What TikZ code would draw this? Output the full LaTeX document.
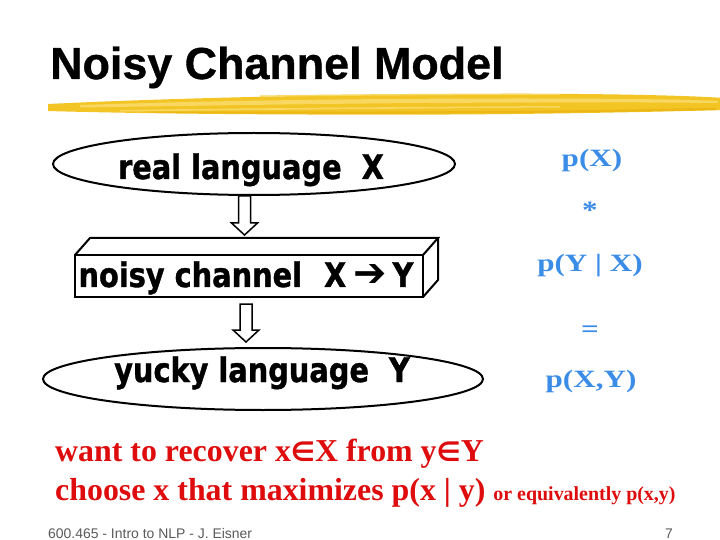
\documentclass[tikz,border=0pt]{standalone}
\usepackage{fontspec}
\setmainfont{Liberation Serif}
\newfontfamily\titlefont{Liberation Sans}[BoldFeatures={FakeBold=0.8}]
\newfontfamily\boxfont{DejaVu Sans}[FakeStretch=0.85, BoldFeatures={FakeBold=1.1}]
\newfontfamily\bluefont{Liberation Serif}[FakeStretch=1.25]
\newfontfamily\footfont{Liberation Sans}
\newfontfamily\symfont{DejaVu Sans}
\usetikzlibrary{shapes.geometric,calc}
\definecolor{slideblue}{RGB}{58,140,230}
\definecolor{slidered}{RGB}{222,12,12}
\definecolor{brushyellow}{RGB}{242,196,36}
\definecolor{brushlight}{RGB}{248,216,96}
\definecolor{brushdark}{RGB}{236,184,22}
\definecolor{footgrey}{RGB}{90,90,90}
\tikzset{
  outline/.style={draw=black,line width=2bp,outer sep=0pt,inner sep=0pt},
  boxtext/.style={font=\boxfont\bfseries\fontsize{34}{40}\selectfont,anchor=base,inner sep=0pt},
  bluetext/.style={font=\bluefont\bfseries\fontsize{25}{30}\selectfont,text=slideblue,anchor=base,inner sep=0pt},
  redtext/.style={font=\bfseries\fontsize{32}{38}\selectfont,text=slidered,anchor=base west,inner sep=0pt},
  pics/downarrow/.style n args={2}{code={
    \draw[line width=1.5bp,fill=white,line join=miter]
      (-6,0) -- (-6,#1) -- (-13,#1) -- (0,#2) -- (13,#1) -- (6,#1) -- (6,0) -- cycle;}}
}
\newcommand{\elt}{{\symfont\bfseries\fontsize{27}{30}\selectfont ∈}}
\newcommand{\harrow}{{\symfont\fontsize{40}{44}\selectfont ➔}}
\begin{document}
\begin{tikzpicture}[x=1bp,y=-1bp]
\path[use as bounding box,fill=white] (0,0) rectangle (720,540);

% title
\node[font=\titlefont\bfseries\fontsize{45}{54}\selectfont,anchor=base west,inner sep=0pt] (title) at (50,79) {Noisy Channel Model};

% brush stroke
\fill[brushyellow] (48,104) .. controls (150,99) and (300,95) .. (450,94)
   .. controls (580,93) and (680,95) .. (724,98) -- (724,110)
   .. controls (650,112) and (550,114) .. (450,114.5)
   .. controls (300,115) and (150,114) .. (48,111) -- cycle;
\fill[brushlight] (80,105) .. controls (200,101) and (350,98.5) .. (520,98.5)
   .. controls (620,98.5) and (690,99.5) .. (718,101) -- (718,103)
   .. controls (620,102) and (520,102.5) .. (420,103)
   .. controls (300,104) and (180,106) .. (80,107.5) -- cycle;
\fill[brushlight] (120,110) .. controls (260,108) and (400,107) .. (560,106) -- (560,107.5)
   .. controls (400,108.5) and (260,110) .. (120,111.5) -- cycle;
\fill[brushdark] (150,111.5) .. controls (300,112) and (450,111.5) .. (600,110)
   .. controls (650,109) and (690,108) .. (716,108) -- (716,110)
   .. controls (650,111.5) and (550,113) .. (420,113.5)
   .. controls (300,114) and (200,113.5) .. (150,112.5) -- cycle;
\fill[brushlight] (260,95.5) .. controls (360,94) and (460,93.5) .. (560,94) -- (560,95.2)
   .. controls (460,95) and (360,95.5) .. (260,96.8) -- cycle;

% real language ellipse
\node[ellipse,outline,minimum width=402bp,minimum height=62bp] (real) at (254,164) {};
\node[boxtext] (realtext) at (251,179) {real language\hspace{20bp}X};

% noisy channel box
\node[rectangle,outline,minimum width=348bp,minimum height=42bp] (channel) at (249,276) {};
\draw[line width=2bp,line join=miter] (channel.north west) -- ++(15,-17) coordinate (tl)
   -- ++(348,0) coordinate (tr) -- (channel.north east);
\draw[line width=2bp,line join=miter] (tr) -- ($(channel.south east)+(15,-17)$) coordinate (br) -- (channel.south east);
\node[boxtext] (channeltext) at (246,287) {noisy channel\hspace{22bp}X\hspace{7bp}\harrow\hspace{6bp}Y};

% yucky language ellipse
\node[ellipse,outline,minimum width=440bp,minimum height=62bp] (yucky) at (263,379) {};
\node[boxtext] (yuckytext) at (262,382) {yucky language\hspace{20bp}Y};

% hollow arrows
\coordinate (a1) at ($(real.south)+(-9.5,1)$);
\coordinate (a2) at ($(channel.south)+(-3,7)$);
\pic at (a1) {downarrow={27}{39}};
\pic at (a2) {downarrow={26}{38}};

% blue column
\node[bluetext] (px) at (592,167) {p(X)};
\node[bluetext] (star) at (590,219) {*};
\node[bluetext] (pyx) at (590,272) {p(Y | X)};
\node[bluetext] (eq) at (590,337) {=};
\node[bluetext] (pxy) at (591,387) {p(X,Y)};

% red text
\node[redtext] (want) at (55,461) {want to recover x\elt X from y\elt Y};
\node[redtext] (choose) at (55,500) {choose x that maximizes p(x | y) {\fontsize{20}{24}\selectfont or equivalently p(x,y)}};

% footer
\node[font=\footfont\fontsize{14}{16}\selectfont,text=footgrey,anchor=base west,inner sep=0pt] (foot) at (48,538) {600.465 - Intro to NLP - J. Eisner};
\node[font=\footfont\fontsize{14}{16}\selectfont,text=footgrey,anchor=base west,inner sep=0pt] (page) at (665,538) {7};
\end{tikzpicture}
\end{document}
